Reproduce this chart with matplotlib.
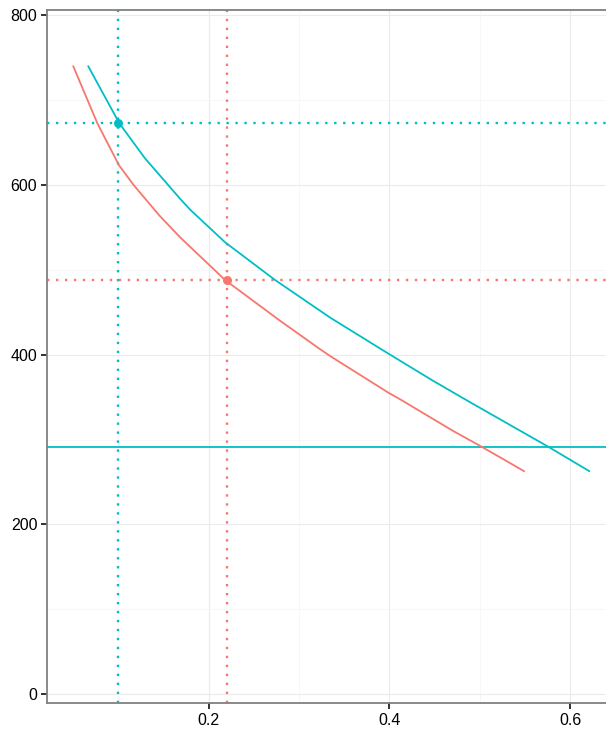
import matplotlib
matplotlib.use("Agg")
import matplotlib.pyplot as plt
from matplotlib.ticker import MultipleLocator, FuncFormatter

# Curve points
red_x = [0.0504, 0.0770, 0.1010, 0.1175, 0.1456, 0.1685, 0.2183, 0.2791,
         0.3234, 0.3344, 0.3989, 0.4119, 0.4709, 0.5023, 0.5491]
red_y = [739.6, 672.6, 623.0, 599.4, 564.0, 538.3, 488.0, 440.0,
         406.5, 398.5, 355.3, 347.5, 310.0, 291.5, 262.8]
cyan_x = [0.0670, 0.1013, 0.1297, 0.1685, 0.1795, 0.2183, 0.2736, 0.3234,
          0.3344, 0.3989, 0.4487, 0.4894, 0.5760, 0.6213]
cyan_y = [739.6, 672.6, 631.3, 583.7, 571.0, 532.4, 488.0, 451.8,
          443.8, 401.3, 369.1, 344.0, 291.5, 262.8]

# Reference markers
red_pt = (0.22, 488)
cyan_pt = (0.10, 672.6)
cyan_level = 291.5

RED = "#F8766D"
CYAN = "#00BFC4"

plt.rcParams["font.family"] = ["Liberation Sans", "DejaVu Sans"]

fig = plt.figure(figsize=(6.06, 7.29), dpi=100)
ax = fig.add_axes([47 / 606, 26 / 729, 559 / 606, 693 / 729])

ax.set_xlim(0.0213, 0.6398)
ax.set_ylim(-10.3, 806)

ax.xaxis.set_major_locator(MultipleLocator(0.2))
ax.xaxis.set_minor_locator(MultipleLocator(0.1))
ax.yaxis.set_major_locator(MultipleLocator(200))
ax.yaxis.set_minor_locator(MultipleLocator(100))
ax.grid(True, which="major", color="#EBEBEB", linewidth=0.8)
ax.grid(True, which="minor", color="#F4F4F4", linewidth=0.5)
ax.set_axisbelow(True)
ax.xaxis.set_major_formatter(FuncFormatter(lambda v, p: f"{v:.1f}"))
ax.yaxis.set_major_formatter(FuncFormatter(lambda v, p: f"{v:.0f}"))

ax.tick_params(which="major", length=4.5, width=1.3, color="#222222",
               labelsize=11.5, labelcolor="black", pad=2.5)
ax.tick_params(which="minor", length=0)
for side in ["left", "bottom", "top"]:
    ax.spines[side].set_color("#808080")
    ax.spines[side].set_linewidth(1.3)
ax.spines["right"].set_visible(False)

# reference lines
dots = (0, (1, 2.8))
ax.axvline(cyan_pt[0], color=CYAN, linestyle=dots, linewidth=1.7)
ax.axvline(red_pt[0], color=RED, linestyle=dots, linewidth=1.7)
ax.axhline(cyan_pt[1], color=CYAN, linestyle=dots, linewidth=1.7)
ax.axhline(red_pt[1], color=RED, linestyle=dots, linewidth=1.7)
ax.axhline(cyan_level, color=CYAN, linewidth=1.3)

ax.plot(red_x, red_y, color=RED, linewidth=1.3)
ax.plot(cyan_x, cyan_y, color=CYAN, linewidth=1.3)

ax.scatter([red_pt[0]], [red_pt[1]], color=RED, s=42, zorder=5, linewidths=0)
ax.scatter([cyan_pt[0]], [cyan_pt[1]], color=CYAN, s=42, zorder=5, linewidths=0)

fig.savefig("out.png", dpi=100)
